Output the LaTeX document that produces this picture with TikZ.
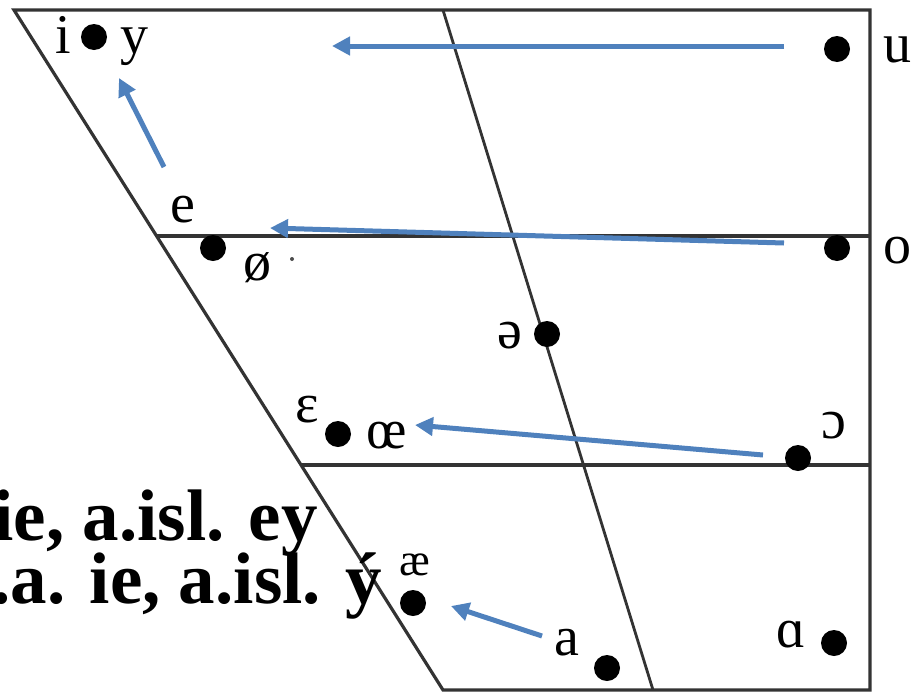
\documentclass[tikz,border=0pt]{standalone}
\usepackage{fontspec}
\setmainfont{Liberation Serif}
\usetikzlibrary{arrows.meta}
\definecolor{arrowblue}{HTML}{4F81BD}
\definecolor{framegray}{HTML}{333333}
\begin{document}
\begin{tikzpicture}[x=1pt,y=-1pt,
  frame/.style={draw=framegray,line width=3.2pt,line join=miter},
  diag/.style={draw=framegray,line width=2.8pt},
  vdot/.style={circle,fill=black,inner sep=0pt,minimum size=26pt},
  tinydot/.style={circle,fill=black!70,inner sep=0pt,minimum size=4pt},
  ipa/.style={font=\fontsize{56}{56}\selectfont,inner sep=0pt,anchor=base},
  shiftarrow/.style={draw=arrowblue,line width=5pt,-{Triangle[length=18pt,width=18pt]}},
  boldtext/.style={font=\fontsize{73}{60}\bfseries\selectfont,inner sep=0pt,anchor=base east}]
\useasboundingbox (0,0) rectangle (922,694);
% frame
\coordinate (TL) at (14,10);
\coordinate (TR) at (870,10);
\coordinate (BR) at (870,690);
\coordinate (BL) at (443,690);
\coordinate (CT) at (443,10);
\coordinate (CB) at (653,690);
\coordinate (M1L) at (157,236);
\coordinate (M1R) at (870,236);
\coordinate (M2L) at (301,465);
\coordinate (M2R) at (870,465);
\draw[frame] (BL) -- (TL) -- (TR) -- (BR) -- cycle;
\draw[frame] (M1L) -- (M1R);
\draw[frame] (M2L) -- (M2R);
\draw[diag] (CT) -- (CB);
% dots
\node[vdot] (di) at (94,37) {};
\node[vdot] (du) at (837,49) {};
\node[vdot] (doe) at (213,248) {};
\node[vdot] (do) at (837,248) {};
\node[vdot] (dschwa) at (547,334) {};
\node[vdot] (doelig) at (338,434) {};
\node[vdot] (dopeno) at (798,458) {};
\node[vdot] (dae) at (413,603) {};
\node[vdot] (da) at (607,668) {};
\node[vdot] (dalpha) at (834,643) {};
\node[tinydot] (speck) at (292,259) {};
% labels
\node[ipa] (li) at (63,53) {i};
\node[ipa] (ly) at (134,53) {y};
\node[ipa] (lu) at (897,62) {u};
\node[ipa] (le) at (183,222) {e};
\node[ipa] (loe) at (257,280) {ø};
\node[ipa] (lo) at (897,263) {o};
\node[ipa] (lschwa) at (510,348) {ə};
\node[ipa] (leps) at (307,422) {ɛ};
\node[ipa] (loelig) at (387,448) {œ};
\node[ipa] (lopeno) at (834,438) {ɔ};
\node[ipa,font=\fontsize{46}{46}\selectfont] (lae) at (415,575) {æ};
\node[ipa] (la) at (567,655) {a};
\node[ipa] (lalpha) at (791,647) {ɑ};
% bold text
\node[boldtext] (t1) at (318,540) {ie, a.isl. ey};
\node[boldtext] (t2) at (382,603) {.a. ie, a.isl. \symbol{"00FD}};
% arrows
\coordinate (a1s) at (784,46);
\coordinate (a1e) at (332,46);
\coordinate (a2s) at (164,167);
\coordinate (a2e) at (119,78);
\coordinate (a3s) at (784,243);
\coordinate (a3e) at (270,228);
\coordinate (a4s) at (763,455);
\coordinate (a4e) at (415,425);
\coordinate (a5s) at (542,636);
\coordinate (a5e) at (451,606);
\draw[shiftarrow] (a1s) -- (a1e);
\draw[shiftarrow] (a2s) -- (a2e);
\draw[shiftarrow] (a3s) -- (a3e);
\draw[shiftarrow] (a4s) -- (a4e);
\draw[shiftarrow] (a5s) -- (a5e);
\end{tikzpicture}
\end{document}
